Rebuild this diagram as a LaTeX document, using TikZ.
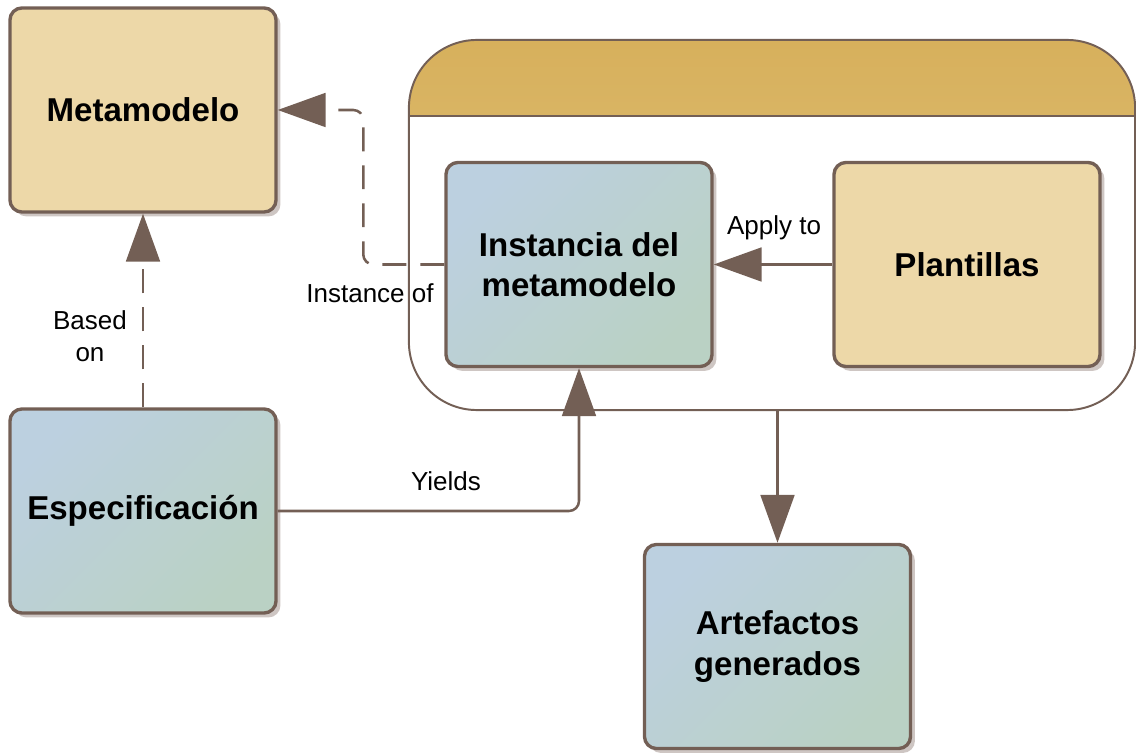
\documentclass[tikz,border=0pt]{standalone}
\usepackage{fontspec}
\setmainfont{Liberation Sans}
\usepackage{xcolor}
\usepackage{tikz}
\usetikzlibrary{positioning,arrows.meta,shadows,calc}
\definecolor{edgebrown}{RGB}{115,95,85}
\definecolor{tanfill}{RGB}{237,216,168}
\definecolor{blueTL}{RGB}{188,208,224}
\definecolor{greenBR}{RGB}{186,209,196}
\definecolor{bandtop}{RGB}{215,176,92}
\definecolor{bandbot}{RGB}{225,197,127}
\definecolor{shadowgray}{RGB}{206,198,195}

\begin{document}
\begin{tikzpicture}[
  x=0.025cm, y=-0.025cm,
  every node/.style={font=\fontsize{18.5}{22.5}\selectfont},
  box/.style={draw=edgebrown, line width=2.4pt, rounded corners=0.3cm, minimum width=6.65cm, minimum height=5.1cm, align=center, font=\fontsize{23.5}{28.5}\selectfont\bfseries, drop shadow={shadow xshift=0.11cm, shadow yshift=-0.11cm, fill=shadowgray, opacity=1}},
  tanbox/.style={box, fill=tanfill},
  bluebox/.style={box, top color=blueTL, bottom color=greenBR, shading angle=45},
  conn/.style={draw=edgebrown, line width=1.8pt, -{Triangle[length=34pt,width=24pt]}},
  dconn/.style={conn, dash pattern=on 17pt off 10pt},
]
\useasboundingbox (0,0) rectangle (1136,753);

% container with its title band
\node[draw=edgebrown, line width=1.4pt, rounded corners=1.7cm, minimum width=18.15cm, minimum height=9.25cm, fill=white,
  path picture={
    \shade[sharp corners, top color=bandtop, bottom color=bandbot] (path picture bounding box.north west) rectangle ([yshift=-1.9cm]path picture bounding box.north east);
    \draw[sharp corners, edgebrown, line width=1.4pt] ([yshift=-1.9cm]path picture bounding box.north west) -- ([yshift=-1.9cm]path picture bounding box.north east);
  }] (proc) at (772,225) {};

\node[tanbox] (meta) at (143,110) {Metamodelo};
\node[bluebox] (inst) at (579,264.5) {Instancia del\\metamodelo};
\node[tanbox] (plant) at (967,264.5) {Plantillas};
\node[bluebox] (spec) at (143,511) {Especificación};
\node[bluebox] (art) at (777.5,646.5) {Artefactos\\generados};

\draw[conn] (plant) -- (inst);
\draw[dconn, rounded corners=0.25cm] (inst.west) -- ++(-81,0) |- (meta.east);
\draw[dconn] (spec) -- (meta);
\draw[conn, rounded corners=0.25cm] (spec.east) -| (inst.south);
\draw[conn] (proc.south -| art.north) -- (art.north);

\node (applylbl) at (774,228) {Apply to};
\node (instlbl) at (370,293) {Instance of};
\node[align=center] (basedlbl) at (90,336) {Based\\on};
\node (yieldlbl) at (446,481) {Yields};
\end{tikzpicture}
\end{document}
